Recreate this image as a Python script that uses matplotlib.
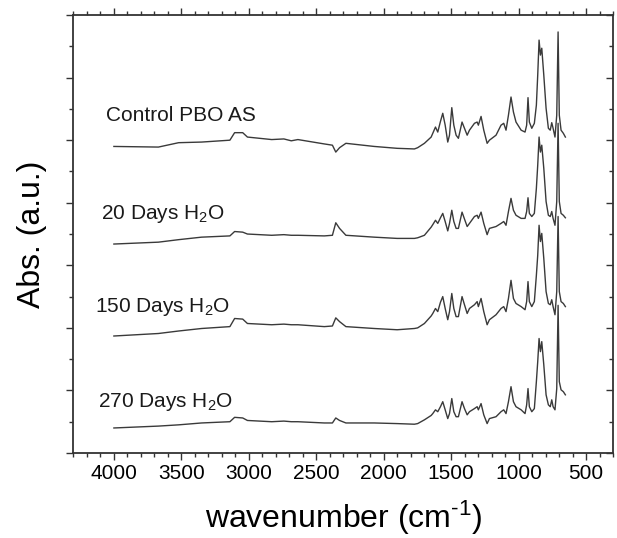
import numpy as np
import matplotlib
matplotlib.use("Agg")
import matplotlib.pyplot as plt
from matplotlib.ticker import MultipleLocator

plt.rcParams["font.family"] = ["Liberation Sans", "DejaVu Sans"]
plt.rcParams["mathtext.fontset"] = "custom"
plt.rcParams["mathtext.rm"] = "Liberation Sans"
plt.rcParams["mathtext.it"] = "Liberation Sans"

# wavenumber grid (cm^-1), shared by all four spectra
wavenumber = [4000, 3670, 3520, 3350, 3140, 3105, 3045, 3010, 2830, 2740, 2685, 2636,
              2440, 2380, 2355, 2327, 2280, 2070, 1900, 1772, 1748, 1698, 1648, 1636,
              1616, 1599, 1579, 1562, 1544, 1525, 1512, 1495, 1480, 1463, 1446, 1419,
              1401, 1381, 1364, 1327, 1307, 1298, 1278, 1258, 1233, 1216, 1167, 1130,
              1110, 1093, 1075, 1056, 1038, 1019, 981, 952, 940, 930, 920, 902, 883,
              868, 858, 848, 838, 828, 813, 796, 779, 765, 754, 744, 730, 717, 707,
              698, 685, 668, 653]

# absorbance (a.u.) relative to each trace's own 4000 cm^-1 baseline
abs_control = [0.00, -0.01, 0.06, 0.07, 0.10, 0.22, 0.22, 0.15, 0.11, 0.12, 0.09, 0.11,
               0.04, 0.02, -0.09, -0.02, 0.05, 0.00, -0.03, -0.04, -0.02, 0.05, 0.15, 0.21,
               0.31, 0.23, 0.40, 0.53, 0.34, 0.07, 0.18, 0.62, 0.34, 0.18, 0.13, 0.39,
               0.29, 0.18, 0.26, 0.37, 0.39, 0.34, 0.48, 0.26, 0.05, 0.10, 0.18, 0.34,
               0.37, 0.26, 0.50, 0.79, 0.55, 0.39, 0.26, 0.23, 0.34, 0.78, 0.39, 0.29, 0.37,
               0.66, 1.14, 1.70, 1.46, 1.57, 1.14, 0.61, 0.29, 0.26, 0.38, 0.29, 0.15, 0.50, 1.83,
               0.50, 0.26, 0.21, 0.15]
abs_20d = [0.00, 0.03, 0.07, 0.11, 0.13, 0.20, 0.19, 0.16, 0.14, 0.15, 0.14, 0.14,
           0.13, 0.14, 0.34, 0.25, 0.14, 0.11, 0.09, 0.09, 0.10, 0.14, 0.27, 0.31,
           0.38, 0.33, 0.42, 0.49, 0.36, 0.21, 0.33, 0.54, 0.36, 0.25, 0.25, 0.51,
           0.40, 0.28, 0.33, 0.44, 0.46, 0.41, 0.51, 0.33, 0.15, 0.25, 0.28, 0.33,
           0.36, 0.30, 0.52, 0.73, 0.54, 0.46, 0.41, 0.41, 0.52, 0.74, 0.49, 0.44, 0.49,
           0.89, 1.26, 1.71, 1.47, 1.58, 1.21, 0.68, 0.46, 0.44, 0.52, 0.41, 0.30, 0.68, 1.93,
           0.68, 0.49, 0.46, 0.42]
abs_150d = [0.00, 0.04, 0.08, 0.12, 0.15, 0.28, 0.27, 0.20, 0.18, 0.19, 0.18, 0.18,
            0.15, 0.16, 0.29, 0.23, 0.15, 0.12, 0.10, 0.12, 0.13, 0.20, 0.32, 0.36,
            0.44, 0.39, 0.54, 0.63, 0.44, 0.26, 0.39, 0.68, 0.44, 0.31, 0.31, 0.63,
            0.50, 0.36, 0.44, 0.50, 0.55, 0.47, 0.60, 0.39, 0.18, 0.26, 0.34, 0.44,
            0.47, 0.39, 0.60, 0.89, 0.60, 0.52, 0.47, 0.42, 0.55, 0.87, 0.55, 0.47, 0.55,
            0.97, 1.29, 1.77, 1.51, 1.64, 1.24, 0.71, 0.52, 0.50, 0.58, 0.47, 0.34, 0.71, 1.91,
            0.71, 0.55, 0.52, 0.47]
abs_270d = [0.00, 0.03, 0.05, 0.08, 0.10, 0.17, 0.16, 0.12, 0.10, 0.11, 0.10, 0.10,
            0.08, 0.08, 0.16, 0.12, 0.08, 0.08, 0.07, 0.06, 0.07, 0.13, 0.20, 0.23,
            0.29, 0.26, 0.34, 0.42, 0.29, 0.15, 0.23, 0.47, 0.26, 0.18, 0.18, 0.42,
            0.31, 0.21, 0.26, 0.31, 0.34, 0.29, 0.39, 0.21, 0.07, 0.15, 0.18, 0.26,
            0.29, 0.23, 0.42, 0.66, 0.42, 0.34, 0.29, 0.23, 0.37, 0.63, 0.34, 0.26, 0.31,
            0.74, 1.06, 1.43, 1.22, 1.38, 1.01, 0.53, 0.37, 0.34, 0.45, 0.34, 0.29, 0.63, 1.96,
            0.74, 0.61, 0.58, 0.53]

labels = ["Control PBO AS", "20 Days H$_2$O", "150 Days H$_2$O", "270 Days H$_2$O"]
spectra = [abs_control, abs_20d, abs_150d, abs_270d]
offsets = [4.90, 3.34, 1.87, 0.40]          # vertical stacking
label_pos = [(4060, 5.30), (4095, 3.74), (4137, 2.26), (4117, 0.74)]

fig = plt.figure(figsize=(6.17, 5.38), dpi=100)
ax = fig.add_axes([0.119, 0.158, 0.8745, 0.814])

for spec, off, lab, (lx, ly) in zip(spectra, offsets, labels, label_pos):
    ax.plot(wavenumber, np.array(spec) + off, color="#3a3a3a", lw=1.0)
    ax.text(lx, ly, lab, fontsize=15, color="#1a1a1a", ha="left", va="baseline")

ax.set_xlim(4300, 300)
ax.set_ylim(0, 7)
ax.xaxis.set_major_locator(MultipleLocator(500))
ax.xaxis.set_minor_locator(MultipleLocator(100))
ax.yaxis.set_major_locator(MultipleLocator(1))
ax.yaxis.set_minor_locator(MultipleLocator(0.5))
ax.set_xticks([4000, 3500, 3000, 2500, 2000, 1500, 1000, 500])
ax.tick_params(which="both", direction="out", top=True, right=False,
               labelleft=False, color="#333333", width=1.0)
ax.tick_params(which="major", length=5)
ax.tick_params(which="minor", length=3)
ax.tick_params(axis="x", labelsize=15, pad=3)
# inward ticks on the right edge
ay = ax.secondary_yaxis("right")
ay.yaxis.set_major_locator(MultipleLocator(1))
ay.yaxis.set_minor_locator(MultipleLocator(0.5))
ay.tick_params(which="both", direction="in", labelright=False, color="#333333", width=1.0)
ay.tick_params(which="major", length=5)
ay.tick_params(which="minor", length=3)
ay.spines["right"].set_visible(False)
for s in ax.spines.values():
    s.set_linewidth(1.3)
    s.set_color("#333333")

ax.set_xlabel("wavenumber (cm$^{\\text{-1}}$)", fontsize=23, labelpad=11)
ax.set_ylabel("Abs. (a.u.)", fontsize=23, labelpad=14)

fig.savefig("out.png", dpi=100)
